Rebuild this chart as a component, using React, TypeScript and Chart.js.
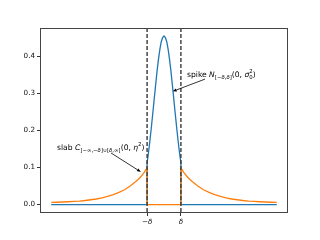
import React, { useEffect, useRef } from "react";
import { Chart, registerables } from "chart.js";

Chart.register(...registerables);

// Boundary delta (x position of the dashed lines)
const delta = 0.3;

// Spike series (blue)
const spikeX = [-2.0, -0.3, -0.3, -0.275, -0.25, -0.225, -0.2, -0.175, -0.15, -0.125, -0.1, -0.075, -0.05, -0.025, 0, 0.025, 0.05, 0.075, 0.1, 0.125, 0.15, 0.175, 0.2, 0.225, 0.25, 0.275, 0.3, 0.3, 2.0];
const spikeY = [0, 0, 0.112, 0.140, 0.172, 0.207, 0.244, 0.282, 0.320, 0.357, 0.389, 0.417, 0.438, 0.450, 0.454, 0.450, 0.438, 0.417, 0.389, 0.357, 0.320, 0.282, 0.244, 0.207, 0.172, 0.140, 0.112, 0, 0];

// Slab series (orange)
const slabX = [-2.0, -1.9, -1.8, -1.7, -1.6, -1.5, -1.4, -1.3, -1.2, -1.1, -1.0, -0.9, -0.8, -0.7, -0.6, -0.5, -0.45, -0.4, -0.35, -0.3, -0.3, 0.3, 0.3, 0.35, 0.4, 0.45, 0.5, 0.6, 0.7, 0.8, 0.9, 1.0, 1.1, 1.2, 1.3, 1.4, 1.5, 1.6, 1.7, 1.8, 1.9, 2.0];
const slabY = [0.0058, 0.0063, 0.0069, 0.0076, 0.0085, 0.0095, 0.011, 0.013, 0.015, 0.018, 0.022, 0.027, 0.033, 0.040, 0.050, 0.062, 0.069, 0.077, 0.087, 0.099, 0, 0, 0.099, 0.087, 0.077, 0.069, 0.062, 0.050, 0.040, 0.033, 0.027, 0.022, 0.018, 0.015, 0.013, 0.011, 0.0095, 0.0085, 0.0076, 0.0069, 0.0063, 0.0058];

// Tick values / labels
const yTicks = [0, 0.1, 0.2, 0.3, 0.4];
const xTicks = [-delta, delta];
const xTickLabels = ["\u2212\u03B4", "\u03B4"];

// Axis limits
const xMin = -2.2, xMax = 2.2;
const yMin = -0.0227, yMax = 0.4757;

type Run = { t: string; italic?: boolean; size?: number; dy?: number; stackNext?: boolean };

const FONT = '"DejaVu Sans", sans-serif';
const BASE = 7.6;
const SUB = 5.4;

const spikeText: Run[] = [
  { t: "spike " },
  { t: "N", italic: true },
  { t: "[\u2212", size: SUB, dy: 2 },
  { t: "\u03B4", italic: true, size: SUB, dy: 2 },
  { t: ",", size: SUB, dy: 2 },
  { t: "\u03B4", italic: true, size: SUB, dy: 2 },
  { t: "]", size: SUB, dy: 2 },
  { t: "(0, " },
  { t: "\u03C3", italic: true },
  { t: "0", size: SUB, dy: 2, stackNext: true },
  { t: "2", size: SUB, dy: -3.8 },
  { t: ")" },
];

const slabText: Run[] = [
  { t: "slab " },
  { t: "C", italic: true },
  { t: "]\u2212\u221E,\u2212", size: SUB, dy: 2 },
  { t: "\u03B4", italic: true, size: SUB, dy: 2 },
  { t: "]\u222A[", size: SUB, dy: 2 },
  { t: "\u03B4", italic: true, size: SUB, dy: 2 },
  { t: ",\u221E[", size: SUB, dy: 2 },
  { t: "(0, " },
  { t: "\u03B7", italic: true },
  { t: "2", size: SUB, dy: -3.8 },
  { t: ")" },
];

// annotation anchors in data coordinates
const spikeAnn = { text: [0.408, 0.3445], from: [0.727, 0.338], to: [0.155, 0.305] };
const slabAnn = { text: [-1.898, 0.147], from: [-0.94, 0.139], to: [-0.41, 0.088] };

function drawRuns(ctx: CanvasRenderingContext2D, x: number, y: number, runs: Run[]) {
  ctx.textBaseline = "alphabetic";
  ctx.textAlign = "left";
  ctx.fillStyle = "#000";
  let pendingW = 0;
  for (let i = 0; i < runs.length; i++) {
    const r = runs[i];
    const size = r.size ?? BASE;
    ctx.font = `${r.italic ? "italic " : ""}${size}px ${FONT}`;
    ctx.fillText(r.t, x, y + (r.dy ?? 0));
    const w = ctx.measureText(r.t).width;
    if (r.stackNext) {
      pendingW = w;
    } else {
      x += Math.max(w, pendingW);
      pendingW = 0;
    }
  }
}

function drawArrow(ctx: CanvasRenderingContext2D, x1: number, y1: number, x2: number, y2: number) {
  ctx.save();
  ctx.strokeStyle = "#000";
  ctx.fillStyle = "#000";
  ctx.lineWidth = 0.8;
  const ang = Math.atan2(y2 - y1, x2 - x1);
  const hl = 4, hw = 1.6;
  const bx = x2 - hl * Math.cos(ang), by = y2 - hl * Math.sin(ang);
  ctx.beginPath();
  ctx.moveTo(x1, y1);
  ctx.lineTo(bx, by);
  ctx.stroke();
  ctx.beginPath();
  ctx.moveTo(x2, y2);
  ctx.lineTo(bx + hw * Math.sin(ang), by - hw * Math.cos(ang));
  ctx.lineTo(bx - hw * Math.sin(ang), by + hw * Math.cos(ang));
  ctx.closePath();
  ctx.fill();
  ctx.restore();
}

const overlayPlugin = {
  id: "overlay",
  afterDatasetsDraw(chart: any) {
    const { ctx, chartArea, scales } = chart;
    ctx.save();
    ctx.strokeStyle = "#3a3a3a";
    ctx.lineWidth = 1.4;
    ctx.setLineDash([4, 2]);
    for (const v of xTicks) {
      const px = scales.x.getPixelForValue(v);
      ctx.beginPath();
      ctx.moveTo(px, chartArea.top);
      ctx.lineTo(px, chartArea.bottom);
      ctx.stroke();
    }
    ctx.restore();
  },
  afterDraw(chart: any) {
    const { ctx, chartArea, scales } = chart;
    const X = (v: number) => scales.x.getPixelForValue(v);
    const Y = (v: number) => scales.y.getPixelForValue(v);
    ctx.save();
    ctx.strokeStyle = "#444";
    ctx.lineWidth = 1;
    ctx.strokeRect(
      Math.round(chartArea.left) + 0.5,
      Math.round(chartArea.top) + 0.5,
      Math.round(chartArea.right - chartArea.left) - 1,
      Math.round(chartArea.bottom - chartArea.top) - 1
    );
    for (const a of [spikeAnn, slabAnn]) {
      drawArrow(ctx, X(a.from[0]), Y(a.from[1]), X(a.to[0]), Y(a.to[1]));
    }
    drawRuns(ctx, X(spikeAnn.text[0]), Y(spikeAnn.text[1]), spikeText);
    drawRuns(ctx, X(slabAnn.text[0]), Y(slabAnn.text[1]), slabText);
    ctx.restore();
  },
};

export default function App() {
  const ref = useRef<HTMLCanvasElement>(null);
  useEffect(() => {
    if (!ref.current) return;
    const chart = new Chart(ref.current, {
      type: "line",
      data: {
        datasets: [
          {
            label: "slab",
            data: slabX.map((x, i) => ({ x, y: slabY[i] })),
            borderColor: "#ff7f0e",
            borderWidth: 1.3,
            pointRadius: 0,
            tension: 0,
            fill: false,
            order: 0,
          },
          {
            label: "spike",
            data: spikeX.map((x, i) => ({ x, y: spikeY[i] })),
            borderColor: "#1f77b4",
            borderWidth: 1.3,
            pointRadius: 0,
            tension: 0,
            fill: false,
            order: 1,
          },
        ],
      },
      options: {
        responsive: false,
        devicePixelRatio: 1,
        animation: false,
        events: [],
        layout: { padding: { left: 0, right: 32, top: 28, bottom: 0 } },
        plugins: { legend: { display: false }, tooltip: { enabled: false } },
        scales: {
          x: {
            type: "linear",
            min: xMin,
            max: xMax,
            afterFit: (s: any) => { s.height = 27; },
            afterBuildTicks: (s: any) => { s.ticks = xTicks.map((v) => ({ value: v })); },
            border: { display: false },
            grid: { drawOnChartArea: false, drawTicks: true, tickLength: 3, color: "#333", lineWidth: 1 },
            ticks: {
              autoSkip: false,
              maxRotation: 0,
              padding: 2,
              color: "#111",
              font: { family: FONT, size: 7.2, style: "italic" },
              callback: (v: any) => xTickLabels[xTicks.indexOf(Number(v))] ?? "",
            },
          },
          y: {
            type: "linear",
            min: yMin,
            max: yMax,
            afterFit: (s: any) => { s.width = 40; },
            afterBuildTicks: (s: any) => { s.ticks = yTicks.map((v) => ({ value: v })); },
            border: { display: false },
            grid: { drawOnChartArea: false, drawTicks: true, tickLength: 3, color: "#333", lineWidth: 1 },
            ticks: {
              autoSkip: false,
              padding: 2,
              color: "#111",
              font: { family: FONT, size: 7.2 },
              callback: (v: any) => Number(v).toFixed(1),
            },
          },
        },
      },
      plugins: [overlayPlugin],
    });
    return () => chart.destroy();
  }, []);
  return (
    <div style={{ position: "absolute", left: 0, top: 0, width: 320, height: 240, background: "#fff" }}>
      <canvas ref={ref} width={320} height={240} style={{ display: "block", width: 320, height: 240 }} />
    </div>
  );
}
